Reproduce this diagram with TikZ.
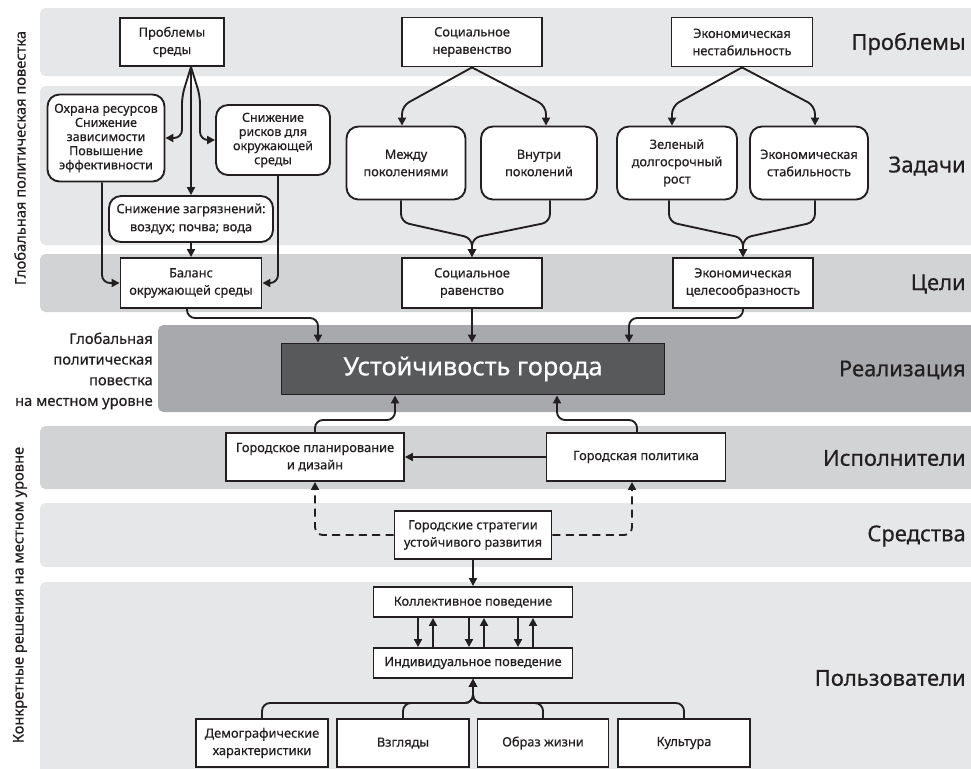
\documentclass[tikz,border=0pt]{standalone}
\usepackage{fontspec}
\setmainfont{Noto Sans}[FakeBold=0.5]
\usetikzlibrary{arrows.meta,calc}
\definecolor{bandA}{HTML}{E6E7E8}
\definecolor{bandB}{HTML}{D1D3D4}
\definecolor{bandC}{HTML}{A7A9AC}
\definecolor{core}{HTML}{58595B}
\definecolor{ink}{HTML}{231F20}
\tikzset{
  wh/.style 2 args={minimum width={#1*0.75pt}, minimum height={#2*0.75pt}},
  box/.style={draw=ink, line width=1.4pt, fill=white, align=center, text=ink,
    inner sep=1pt, font=\fontsize{9.6}{13}\selectfont},
  rbox/.style={box, rounded corners=9pt},
  big/.style={font=\fontsize{9.4}{10.6}\selectfont},
  con/.style={draw=ink, line width=1.4pt, rounded corners=6pt,
    -{Triangle[length=6pt,width=6pt]}},
  dashcon/.style={con, dash pattern=on 6pt off 4pt},
  lab/.style={text=ink, font=\fontsize{16.5}{20}\selectfont, anchor=east, inner sep=0pt},
  side/.style={text=ink, font=\fontsize{11}{15.5}\selectfont, inner sep=0pt}
}
\begin{document}
\begin{tikzpicture}[x=0.75pt,y=-0.75pt]
\useasboundingbox (0,0) rectangle (971,768);

% horizontal bands
\fill[bandA, rounded corners=4pt] (40,8) rectangle (985,76);
\fill[bandA, rounded corners=4pt] (40,86) rectangle (985,245);
\fill[bandB, rounded corners=4pt] (40,254) rectangle (985,312);
\fill[bandC, rounded corners=4pt] (158,325) rectangle (985,412);
\fill[bandB, rounded corners=4pt] (40,426) rectangle (985,489);
\fill[bandA, rounded corners=4pt] (40,503) rectangle (985,567);
\fill[bandA, rounded corners=4pt] (40,582) rectangle (985,790);

% band titles
\node[lab] (t1) at (966,44) {Проблемы};
\node[lab] (t2) at (966,166) {Задачи};
\node[lab] (t3) at (966,284) {Цели};
\node[lab] (t4) at (966,370) {Реализация};
\node[lab] (t5) at (966,458) {Исполнители};
\node[lab] (t6) at (966,536) {Средства};
\node[lab] (t7) at (966,678) {Пользователи};

% side captions
\node[side, rotate=90] (g1) at (20,158) {Глобальная политическая повестка};
\node[side, rotate=90] (g2) at (20,595) {Конкретные решения на местном уровне};
\node[side, align=right, anchor=east] (g3) at (153,371)
  {Глобальная\\политическая\\повестка\\на местном уровне};

% problems
\node[box, wh={104}{48}] (ps) at (172,42) {Проблемы\\среды};
\node[box, wh={140}{49}] (sn) at (472,42) {Социальное\\неравенство};
\node[box, wh={141}{49}] (en) at (742,42) {Экономическая\\нестабильность};

% tasks
\node[rbox, big, wh={117}{87}] (ox) at (106,138)
  {Охрана ресурсов\\Снижение\\зависимости\\Повышение\\эффективности};
\node[rbox, big, wh={114}{70}] (sr) at (273,140)
  {Снижение\\рисков для\\окружающей\\среды};
\node[rbox, wh={164}{46}, font=\fontsize{9.6}{13.5}\selectfont] (sz) at (191,219)
  {Снижение загрязнений:\\воздух; почва; вода};
\node[rbox, wh={119}{73}] (mp) at (406,163) {Между\\поколениями};
\node[rbox, wh={116}{73}] (vp) at (539,163) {Внутри\\поколений};
\node[rbox, wh={120}{73}] (zr) at (677,163) {Зеленый\\долгосрочный\\рост};
\node[rbox, wh={118}{73}] (es) at (809,163) {Экономическая\\стабильность};

% goals
\node[box, wh={141}{50}] (bo) at (191,283) {Баланс\\окружающей среды};
\node[box, wh={140}{50}] (sra) at (472,283) {Социальное\\равенство};
\node[box, wh={140}{50}] (ec) at (743,283) {Экономическая\\целесообразность};

% core
\node[box, fill=core, text=white, wh={383}{51}, font=\fontsize{19}{22}\selectfont]
  (us) at (473,369) {Устойчивость города};

% performers and means
\node[box, wh={178}{48}] (gp) at (315,457) {Городское планирование\\и дизайн};
\node[box, wh={179}{48}] (gpol) at (636,457) {Городская политика};
\node[box, wh={157}{48}] (gs) at (473,535) {Городские стратегии\\устойчивого развития};

% users
\node[box, wh={199}{30}] (kp) at (473,602) {Коллективное поведение};
\node[box, wh={199}{30}] (ip) at (473,663) {Индивидуальное поведение};
\node[box, wh={132}{48}] (dem) at (262,743) {Демографические\\характеристики};
\node[box, wh={132}{48}] (vz) at (403,743) {Взгляды};
\node[box, wh={131}{48}] (oz) at (543,743) {Образ жизни};
\node[box, wh={132}{48}] (ku) at (684,743) {Культура};

% environment branch
\coordinate (f0) at (ps.south -| sz.north);
\draw[con] (f0) -- (182,96) -- (182,138) -- (ox.east);
\draw[con] (f0) -- (200,96) -- (200,140) -- (sr.west);
\draw[con] (f0) -- (sz.north);
\draw[con] ($(ox.south)+(-4,0)$) -- (102,283) -- (bo.west);
\draw[con] ($(sr.south)+(5,0)$) -- (278,283) -- (bo.east);
\draw[con] (sz.south) -- (bo.north);

% social branch
\draw[con] (sn.south) -- (402,106) -- ($(mp.north)+(-4,0)$);
\draw[con] (sn.south) -- (546,106) -- ($(vp.north)+(7,0)$);
\draw[con] ($(mp.south)+(-5,0)$) -- (401,222) -- (472,238) -- (sra.north);
\draw[con] ($(vp.south)+(11,0)$) -- (550,222) -- (472,238) -- (sra.north);

% economic branch
\draw[con] (en.south) -- (672,106) -- ($(zr.north)+(-5,0)$);
\draw[con] (en.south) -- (815,106) -- ($(es.north)+(6,0)$);
\draw[con] ($(zr.south)+(-8,0)$) -- (669,222) -- (743,238) -- (ec.north);
\draw[con] ($(es.south)+(6,0)$) -- (815,222) -- (743,238) -- (ec.north);

% goals into the core
\draw[con] ($(bo.south)+(-4,0)$) -- (187,318) -- (318,318) -- ($(us.north)+(-155,0)$);
\draw[con] (sra.south) -- (sra.south |- us.north);
\draw[con] (ec.south) -- (743,318) -- (629,318) -- ($(us.north)+(156,0)$);

% performers into the core
\draw[con] (gp.north) -- (315,420) -- (395,420) -- ($(us.south)+(-78,0)$);
\draw[con] ($(gpol.north)+(1,0)$) -- (637,420) -- (557,420) -- ($(us.south)+(84,0)$);
\draw[con] (gpol.west) -- (gp.east);

% means
\draw[dashcon] (gs.west) -- (315,535) -- (gp.south);
\draw[dashcon] (gs.east) -- (632,535) -- ($(gpol.south)+(-4,0)$);
\draw[con] (gs.south) -- (kp.north);

% collective / individual feedback
\foreach \dx in {-55,-4,45}
  \draw[con] ($(kp.south)+(\dx,0)$) -- ($(ip.north)+(\dx,0)$);
\foreach \dx in {-40,11,60}
  \draw[con] ($(ip.north)+(\dx,0)$) -- ($(kp.south)+(\dx,0)$);

% user factors
\coordinate (ub) at (473,703);
\foreach \n in {dem,vz,oz,ku}
  \draw[con] (\n.north) -- (\n.north |- ub) -- (ub) -- (ip.south);
\end{tikzpicture}
\end{document}
